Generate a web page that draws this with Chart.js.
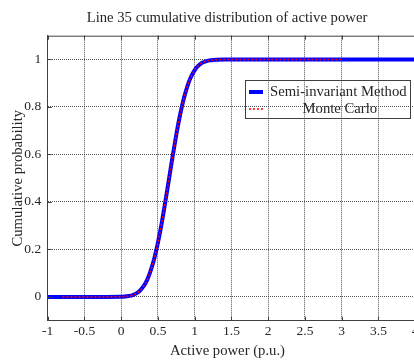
<!DOCTYPE html>
<html>
<head>
<meta charset="utf-8">
<script src="https://cdn.jsdelivr.net/npm/chart.js@4.4.1/dist/chart.umd.min.js"></script>
<style>
  html, body { margin: 0; padding: 0; background: #fff; }
  #wrap { width: 414px; height: 361px; overflow: hidden; position: relative; }
  canvas { display: block; }
</style>
</head>
<body>
<div id="wrap"><canvas id="cdfChart" width="454" height="361"></canvas></div>
<script>
// Semi-invariant method curve (active power in p.u. -> cumulative probability)
const siPower = [-1, -0.5, 0, 0.05, 0.1, 0.15, 0.2, 0.25, 0.3, 0.35, 0.4, 0.45, 0.5, 0.55, 0.6, 0.65, 0.7, 0.75, 0.8, 0.85, 0.9, 0.95, 1.0, 1.05, 1.1, 1.15, 1.2, 1.25, 1.3, 1.4, 1.5, 2, 2.5, 3, 3.5, 4];
const siCdf   = [0, 0, 0.001, 0.002, 0.004, 0.007, 0.014, 0.025, 0.043, 0.07, 0.11, 0.162, 0.229, 0.309, 0.4, 0.496, 0.593, 0.684, 0.765, 0.833, 0.887, 0.927, 0.955, 0.974, 0.986, 0.992, 0.996, 0.998, 0.999, 1, 1, 1, 1, 1, 1, 1];

// Monte Carlo curve
const mcPower = [-0.8, -0.5, 0, 0.05, 0.1, 0.15, 0.2, 0.25, 0.3, 0.35, 0.4, 0.45, 0.5, 0.55, 0.6, 0.65, 0.7, 0.75, 0.8, 0.85, 0.9, 0.95, 1.0, 1.05, 1.1, 1.15, 1.2, 1.25, 1.3, 1.4, 1.5, 2, 2.5, 3];
const mcCdf   = [0, 0, 0.001, 0.002, 0.004, 0.007, 0.014, 0.025, 0.043, 0.07, 0.11, 0.162, 0.229, 0.309, 0.4, 0.496, 0.593, 0.684, 0.765, 0.833, 0.887, 0.927, 0.955, 0.974, 0.986, 0.992, 0.996, 0.998, 0.999, 1, 1, 1, 1, 1];

const yTickValues = [0, 0.2, 0.4, 0.6, 0.8, 1];

const chartTitle = 'Line 35 cumulative distribution of active power';
const xTitle = 'Active power (p.u.)';
const yTitle = 'Cumulative probability';

const FONT = 'Liberation Serif';
const TEXT = '#262626';
const AXIS = '#404040';
const GRID = 'rgba(40,40,40,0.8)';

const toPoints = (xs, ys) => xs.map((x, i) => ({ x: x, y: ys[i] }));
const fmt = v => String(Number(v.toFixed(2)));

// box-style axes like matlab: top border, inward tick marks, titles, legend inside
const matlabFrame = {
    id: 'matlabFrame',
    afterDraw(chart) {
        const ctx = chart.ctx;
        const a = chart.chartArea;
        const xs = chart.scales.x;
        const ys = chart.scales.y;
        ctx.save();
        ctx.strokeStyle = AXIS;
        ctx.lineWidth = 1;
        ctx.beginPath();
        ctx.moveTo(a.left, a.top + 0.5);
        ctx.lineTo(a.right, a.top + 0.5);
        xs.ticks.forEach(t => {
            const px = Math.round(xs.getPixelForValue(t.value)) + 0.5;
            ctx.moveTo(px, a.bottom);
            ctx.lineTo(px, a.bottom - 4);
            ctx.moveTo(px, a.top);
            ctx.lineTo(px, a.top + 4);
        });
        ys.ticks.forEach(t => {
            const py = Math.round(ys.getPixelForValue(t.value)) + 0.5;
            ctx.moveTo(a.left, py);
            ctx.lineTo(a.left + 4, py);
        });
        ctx.stroke();

        // titles (matlab centres them a bit left of the plot box centre)
        ctx.font = '14.7px "' + FONT + '"';
        ctx.fillStyle = TEXT;
        ctx.textAlign = 'center';
        ctx.textBaseline = 'middle';
        ctx.fillText(chartTitle, 227, 18);
        ctx.fillText(xTitle, 227.5, 351);

        // legend
        const bx = 245.5, by = 80.5, bw = 165, bh = 38;
        ctx.strokeRect(bx, by, bw, bh);
        const rows = [
            { y: 92, textX: 270 },
            { y: 109, textX: 302.5 }
        ];
        ctx.textAlign = 'left';
        chart.data.datasets.forEach((ds, i) => {
            const r = rows[i];
            ctx.save();
            ctx.strokeStyle = ds.borderColor;
            ctx.lineWidth = ds.borderWidth;
            ctx.setLineDash(ds.borderDash || []);
            ctx.beginPath();
            ctx.moveTo(249, r.y);
            ctx.lineTo(263, r.y);
            ctx.stroke();
            ctx.restore();
            ctx.fillText(ds.label, r.textX, r.y);
        });
        ctx.restore();
    }
};

new Chart(document.getElementById('cdfChart').getContext('2d'), {
    type: 'scatter',
    data: {
        datasets: [
            {
                label: 'Semi-invariant Method',
                data: toPoints(siPower, siCdf),
                showLine: true,
                borderColor: '#0000ff',
                borderWidth: 4,
                pointRadius: 0,
                cubicInterpolationMode: 'monotone',
                order: 1
            },
            {
                label: 'Monte Carlo',
                data: toPoints(mcPower, mcCdf),
                showLine: true,
                borderColor: '#ff0000',
                borderWidth: 1.5,
                borderDash: [2, 2],
                pointRadius: 0,
                cubicInterpolationMode: 'monotone',
                order: 0
            }
        ]
    },
    options: {
        responsive: false,
        animation: false,
        layout: { padding: { left: 0, right: 38.8, top: 35.7, bottom: 0 } },
        plugins: {
            legend: { display: false },
            tooltip: { enabled: false },
            title: { display: false }
        },
        scales: {
            x: {
                type: 'linear',
                min: -1,
                max: 4,
                ticks: {
                    stepSize: 0.5, color: TEXT, padding: 3,
                    font: { family: FONT, size: 13.5 },
                    callback: v => fmt(v)
                },
                grid: { color: GRID, drawTicks: false },
                border: { color: AXIS, width: 1, dash: [1, 1] },
                afterFit: s => { s.height = 40.3; }
            },
            y: {
                type: 'linear',
                min: -0.1,
                max: 1.1,
                afterBuildTicks: s => { s.ticks = yTickValues.map(v => ({ value: v })); },
                ticks: {
                    color: TEXT, padding: 6.5,
                    font: { family: FONT, size: 13.5 },
                    callback: v => fmt(v)
                },
                grid: { color: GRID, drawTicks: false },
                border: { color: AXIS, width: 1, dash: [1, 1] },
                title: {
                    display: true,
                    text: yTitle,
                    color: TEXT,
                    font: { family: FONT, size: 14.7 },
                    padding: { top: 9.2, bottom: 0 }
                },
                afterFit: s => { s.width = 47.7; }
            }
        }
    },
    plugins: [matlabFrame]
});
</script>
</body>
</html>
